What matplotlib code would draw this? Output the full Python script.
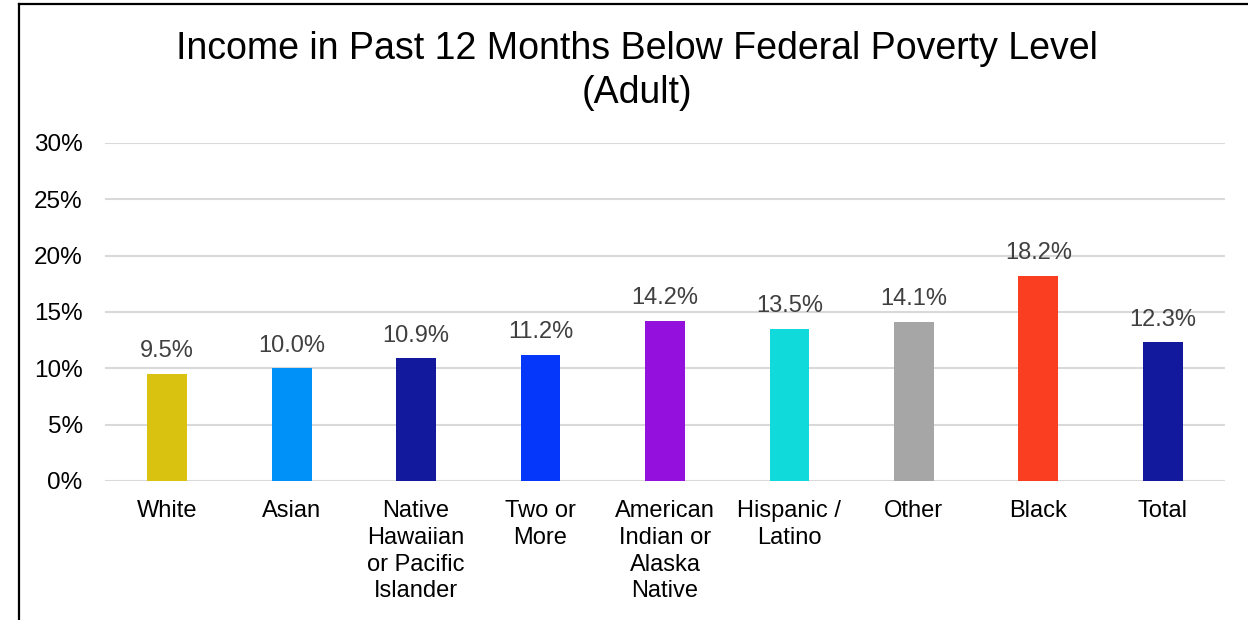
import matplotlib
matplotlib.use("Agg")
import matplotlib.pyplot as plt
from matplotlib.lines import Line2D
from matplotlib.ticker import FuncFormatter

categories = ["White", "Asian", "Native\nHawaiian\nor Pacific\nIslander", "Two or\nMore",
              "American\nIndian or\nAlaska\nNative", "Hispanic /\nLatino", "Other", "Black", "Total"]
values = [9.5, 10.0, 10.9, 11.2, 14.2, 13.5, 14.1, 18.2, 12.3]
colors = ["#DAC310", "#0091F8", "#13199C", "#0437FA", "#9411DD", "#10DADA", "#A6A6A6", "#F93E21", "#13199C"]
yticks = [0, 5, 10, 15, 20, 25, 30]

plt.rcParams['font.family'] = ['Liberation Sans', 'DejaVu Sans']

fig = plt.figure(figsize=(12.48, 6.2), dpi=100)
ax = fig.add_axes([0.0841, 0.2242, 0.8975, 0.5452])

x = range(len(categories))
bars = ax.bar(x, values, width=0.32, color=colors, zorder=3)
for b, v in zip(bars, values):
    ax.annotate(f"{v:.1f}%", (b.get_x() + b.get_width() / 2, v), xytext=(0, 12),
                textcoords="offset points", ha="center", va="baseline",
                fontsize=17, color="#404040")

ax.set_xlim(-0.5, len(categories) - 0.5)
ax.set_ylim(0, 30)
ax.set_yticks(yticks)
ax.yaxis.set_major_formatter(FuncFormatter(lambda v, p: f"{v:.0f}%"))
ax.set_xticks(list(x))
ax.set_xticklabels(categories, fontsize=17, linespacing=1.27)
ax.tick_params(axis="x", length=0, pad=14)
ax.tick_params(axis="y", length=0, pad=16, labelsize=17.5)
ax.grid(axis="y", color="#D9D9D9", linewidth=1.5, zorder=0)
for s in ax.spines.values():
    s.set_visible(False)

fig.text(0.510, 1 - 31 / 620, "Income in Past 12 Months Below Federal Poverty Level\n(Adult)",
         ha="center", va="top", fontsize=27, linespacing=1.27)

# frame around the chart (left and top edges visible)
fig.add_artist(Line2D([19 / 1248, 19 / 1248], [0, 1 - 4 / 620], transform=fig.transFigure,
                      color="black", linewidth=1.6))
fig.add_artist(Line2D([19 / 1248, 1], [1 - 4 / 620, 1 - 4 / 620], transform=fig.transFigure,
                      color="black", linewidth=1.6))

fig.savefig("out.png", dpi=100)
